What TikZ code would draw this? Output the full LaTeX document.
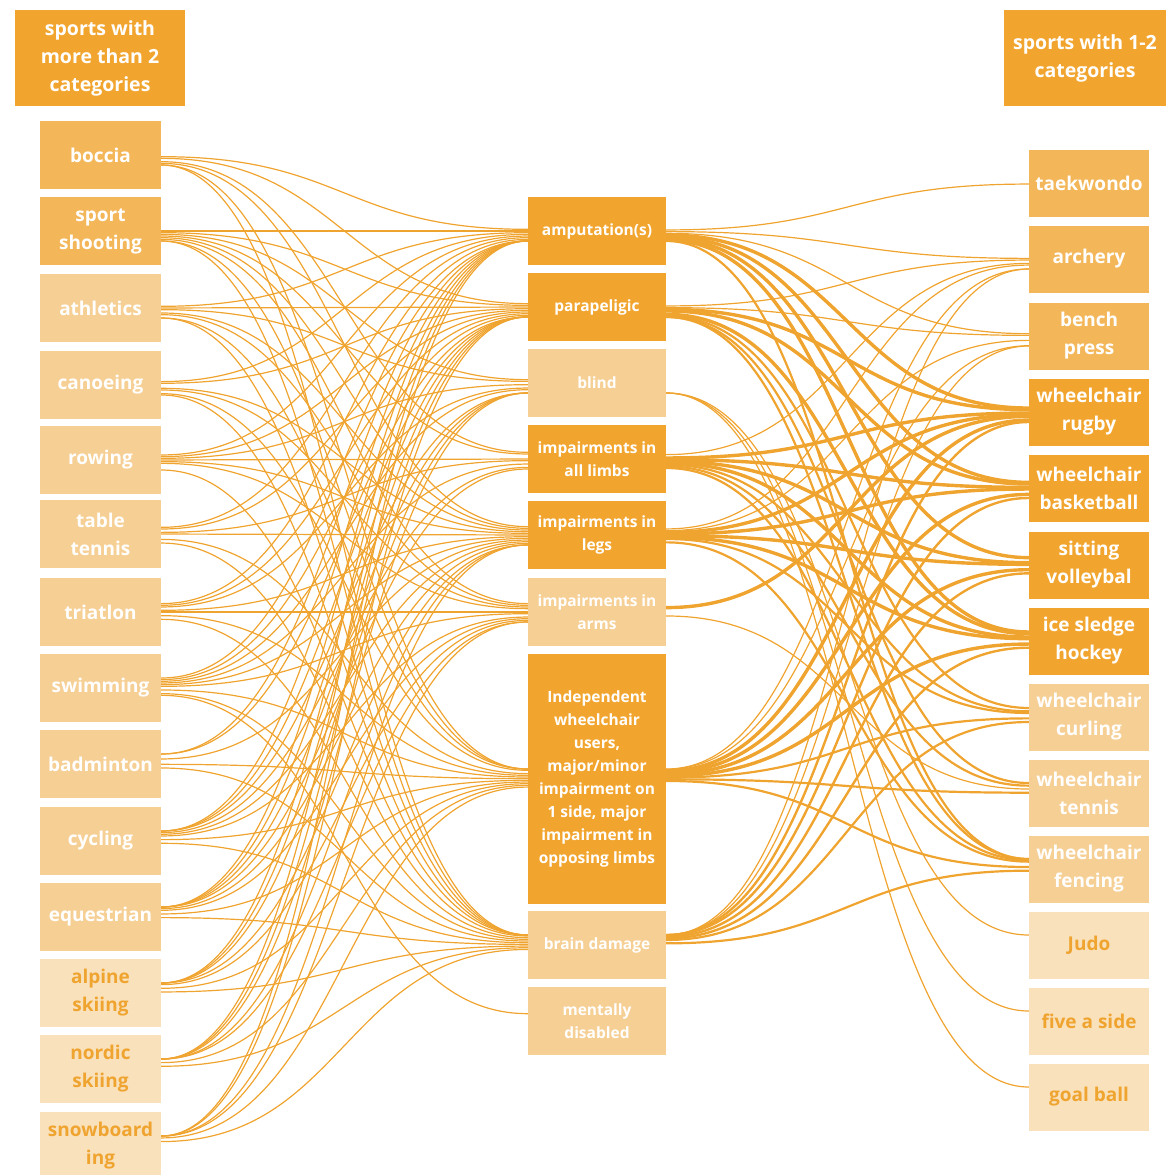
\documentclass[tikz,border=0pt]{standalone}
\usepackage{fontspec}
\setmainfont{Open Sans}
\usetikzlibrary{calc}
\definecolor{dk}{HTML}{F2A52E}
\definecolor{md}{HTML}{F3B75A}
\definecolor{lt}{HTML}{F6CF94}
\definecolor{vl}{HTML}{F9E1BC}
\definecolor{ln}{HTML}{F0A430}
\pgfdeclarelayer{bg}
\pgfsetlayers{bg,main}

% curve between the east side of one box and the west side of another,
% ends spread a little according to the direction of travel
\newcommand\joinbox[3][1.2pt]{%
  \pgfpointanchor{#2}{center}\pgfgetlastxy{\ax}{\ay}%
  \pgfpointanchor{#3}{center}\pgfgetlastxy{\bx}{\by}%
  \pgfmathsetmacro\oa{max(-10,min(10,0.022*((\by)-(\ay))))}%
  \pgfmathsetmacro\ob{0-(\oa)}%
  \draw[ln, line width=#1] ([yshift=\oa pt]#2.east) .. controls +(183pt,0pt) and +(-183pt,0pt) .. ([yshift=\ob pt]#3.west);%
}

\tikzset{
  box/.style={rectangle, inner sep=0pt, align=center, text=white,
    font=\bfseries\fontsize{19}{28}\selectfont},
  head/.style={box, fill=dk, minimum height=96pt, font=\bfseries\fontsize{19.5}{28}\selectfont},
  lbox/.style={box, minimum width=121pt, minimum height=68pt},
  mbox/.style={box, minimum width=138pt, minimum height=68pt,
    font=\bfseries\fontsize{15.5}{23}\selectfont},
  rbox/.style={box, minimum width=120pt, minimum height=67pt},
  cdark/.style={fill=dk},
  cmed/.style={fill=md},
  clight/.style={fill=lt},
  cpale/.style={fill=vl, text=ln},
}

\begin{document}
\begin{tikzpicture}[x=1pt, y=-1pt]
\useasboundingbox (0,0) rectangle (1166,1175);

% headers
\node[head, minimum width=170pt] (hl) at (100,58) {sports with\\more than 2\\categories};
\node[head, minimum width=162pt] (hr) at (1085,58) {sports with 1-2\\categories};

% sports with more than two categories
\node[lbox, cmed]   (l1)  at (100.5,155)  {boccia};
\node[lbox, cmed]   (l2)  at (100.5,231)  {sport\\shooting};
\node[lbox, clight] (l3)  at (100.5,308)  {athletics};
\node[lbox, clight] (l4)  at (100.5,385)  {canoeing};
\node[lbox, clight] (l5)  at (100.5,460)  {rowing};
\node[lbox, clight] (l6)  at (100.5,534)  {table\\tennis};
\node[lbox, clight] (l7)  at (100.5,612)  {triatlon};
\node[lbox, clight] (l8)  at (100.5,688)  {swimming};
\node[lbox, clight] (l9)  at (100.5,764)  {badminton};
\node[lbox, clight] (l10) at (100.5,841)  {cycling};
\node[lbox, clight] (l11) at (100.5,917)  {equestrian};
\node[lbox, cpale]  (l12) at (100.5,993)  {alpine\\skiing};
\node[lbox, cpale]  (l13) at (100.5,1069) {nordic\\skiing};
\node[lbox, cpale]  (l14) at (100.5,1146) {snowboard\\ing};

% impairment categories
\node[mbox, cdark]  (a1) at (597,231) {amputation(s)};
\node[mbox, cdark]  (a2) at (597,307) {parapeligic};
\node[mbox, clight] (a3) at (597,383) {blind};
\node[mbox, cdark]  (a4) at (597,459) {impairments in\\all limbs};
\node[mbox, cdark]  (a5) at (597,535) {impairments in\\legs};
\node[mbox, clight] (a6) at (597,612) {impairments in\\arms};
\node[mbox, cdark, minimum height=250pt] (a7) at (597,779)
  {Independent\\wheelchair\\users,\\major/minor\\impairment on\\1 side, major\\impairment in\\opposing limbs};
\node[mbox, clight] (a8) at (597,945)  {brain damage};
\node[mbox, clight] (a9) at (597,1021) {mentally\\disabled};

% sports with one or two categories
\node[rbox, cmed]   (r1)  at (1089,183)  {taekwondo};
\node[rbox, cmed]   (r2)  at (1089,259)  {archery};
\node[rbox, cmed]   (r3)  at (1089,336)  {bench\\press};
\node[rbox, cdark]  (r4)  at (1089,412)  {wheelchair\\rugby};
\node[rbox, cdark]  (r5)  at (1089,488)  {wheelchair\\basketball};
\node[rbox, cdark]  (r6)  at (1089,565)  {sitting\\volleybal};
\node[rbox, cdark]  (r7)  at (1089,641)  {ice sledge\\hockey};
\node[rbox, clight] (r8)  at (1089,717)  {wheelchair\\curling};
\node[rbox, clight] (r9)  at (1089,793)  {wheelchair\\tennis};
\node[rbox, clight] (r10) at (1089,869)  {wheelchair\\fencing};
\node[rbox, cpale]  (r11) at (1089,945)  {Judo};
\node[rbox, cpale]  (r12) at (1089,1021) {five a side};
\node[rbox, cpale]  (r13) at (1089,1097) {goal ball};

\begin{pgfonlayer}{bg}
% sports -> categories
\foreach \t in {a1,a2,a4,a5,a7,a8}          {\joinbox{l1}{\t}}
\foreach \t in {a1,a2,a3,a4,a5,a6,a7,a8}    {\joinbox{l2}{\t}}
\foreach \t in {a1,a2,a3,a5,a6,a7,a8}       {\joinbox{l3}{\t}}
\foreach \t in {a1,a2,a5,a6,a7,a8}          {\joinbox{l4}{\t}}
\foreach \t in {a1,a2,a3,a4,a5,a6,a8}       {\joinbox{l5}{\t}}
\foreach \t in {a1,a2,a4,a5,a7,a8}          {\joinbox{l6}{\t}}
\foreach \t in {a1,a2,a3,a5,a6,a7,a8}       {\joinbox{l7}{\t}}
\foreach \t in {a1,a2,a3,a4,a5,a6,a7,a8,a9} {\joinbox{l8}{\t}}
\foreach \t in {a1,a2,a5,a7,a8}             {\joinbox{l9}{\t}}
\foreach \t in {a1,a2,a3,a4,a5,a6,a7,a8}    {\joinbox{l10}{\t}}
\foreach \t in {a1,a2,a3,a4,a5,a6,a7,a8}    {\joinbox{l11}{\t}}
\foreach \t in {a1,a2,a3,a5,a6,a7,a8}       {\joinbox{l12}{\t}}
\foreach \t in {a1,a2,a3,a5,a6,a7,a8}       {\joinbox{l13}{\t}}
\foreach \t in {a1,a2,a5,a6,a7,a8}          {\joinbox{l14}{\t}}

% categories -> sports
\foreach \t/\w in {r1/1.2,r2/1.2,r3/1.2,r4/3.4,r5/3.4,r6/3.4,r7/3.4,r10/2.2}
  {\joinbox[\w pt]{a1}{\t}}
\foreach \t/\w in {r2/1.2,r3/1.2,r4/3.4,r5/3.4,r7/3.4,r8/2.2,r9/2.2,r10/2.2}
  {\joinbox[\w pt]{a2}{\t}}
\foreach \t/\w in {r11/1.2,r12/1.2,r13/1.2}
  {\joinbox[\w pt]{a3}{\t}}
\foreach \t/\w in {r2/1.2,r4/3.4,r5/3.4,r6/3.4,r7/3.4,r8/2.2,r9/2.2,r10/2.2}
  {\joinbox[\w pt]{a4}{\t}}
\foreach \t/\w in {r2/1.2,r3/1.2,r4/3.4,r5/3.4,r6/3.4,r7/3.4,r8/2.2,r10/2.2}
  {\joinbox[\w pt]{a5}{\t}}
\foreach \t/\w in {r4/3.4,r9/1.2}
  {\joinbox[\w pt]{a6}{\t}}
\foreach \t/\w in {r2/1.2,r3/1.2,r4/3.4,r5/3.4,r6/3.4,r7/3.4,r8/2.2,r9/2.2,r10/2.2}
  {\joinbox[\w pt]{a7}{\t}}
\foreach \t/\w in {r2/1.2,r3/1.2,r4/2.4,r5/2.4,r6/2.4,r7/2.4,r8/2.2,r10/2.2}
  {\joinbox[\w pt]{a8}{\t}}
\end{pgfonlayer}
\end{tikzpicture}
\end{document}
